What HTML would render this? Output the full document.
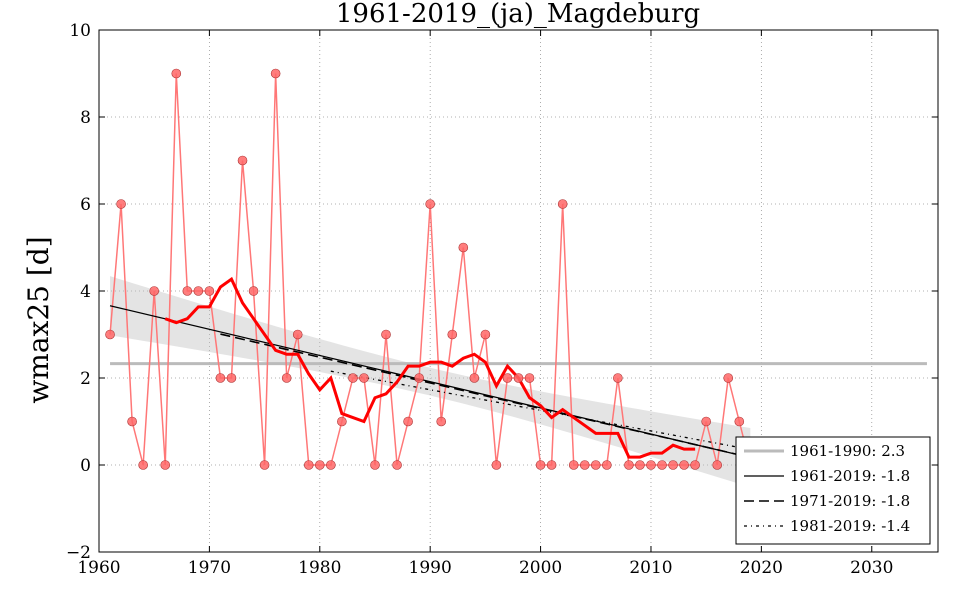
<!DOCTYPE html>
<html><head><meta charset="utf-8"><style>
body{margin:0;background:#fff}
svg text{font-family:"DejaVu Serif","Liberation Serif",serif}
</style></head><body>
<svg id="s" width="960" height="600" xmlns="http://www.w3.org/2000/svg"></svg>
<script>
const S=document.getElementById('s');
const X0=99,X1=938,Y0=30,Y1=552;
const xs=y=>X0+(y-1960)*(X1-X0)/76, ys=v=>Y1-(v+2)*(Y1-Y0)/12;
let h='';
for(let y=1960;y<=2030;y+=10){h+=`<line x1="${xs(y)}" x2="${xs(y)}" y1="${Y0}" y2="${Y1}" stroke="#999" stroke-dasharray="1,3" stroke-width="0.8"/>`;}
for(let v=-2;v<=10;v+=2){h+=`<line x1="${X0}" x2="${X1}" y1="${ys(v)}" y2="${ys(v)}" stroke="#999" stroke-dasharray="1,3" stroke-width="0.8"/>`;}
const d=[3,6,1,0,4,0,9,4,4,4,2,2,7,4,0,9,2,3,0,0,0,1,2,2,0,3,0,1,2,6,1,3,5,2,3,0,2,2,2,0,0,6,0,0,0,0,2,0,0,0,0,0,0,0,1,0,2,1,0];
const yr=d.map((_,i)=>1961+i);
function reg(a){const ii=yr.map((y,i)=>i).filter(i=>yr[i]>=a);const n=ii.length;let mx=0,my=0;ii.forEach(i=>{mx+=yr[i];my+=d[i]});mx/=n;my/=n;let sxy=0,sxx=0;ii.forEach(i=>{sxy+=(yr[i]-mx)*(d[i]-my);sxx+=(yr[i]-mx)**2});const b=sxy/sxx;return {b,a:my-b*mx,mx,sxx,n};}
const r=reg(1961);
let up=[],lo=[];
for(let y=1961;y<=2019;y+=1){const f=r.a+r.b*y;const w=0.68*Math.sqrt(0.22+ (y-r.mx)**2/(29*29)*0.78);up.push(`${xs(y)},${ys(f+w)}`);lo.unshift(`${xs(y)},${ys(f-w)}`);}
h+=`<polygon points="${up.concat(lo).join(' ')}" fill="#bbb" fill-opacity="0.4"/>`;
h+=`<line x1="${xs(1961)}" x2="${xs(2035)}" y1="${ys(2.33)}" y2="${ys(2.33)}" stroke="#bbb" stroke-width="3"/>`;
h+=`<polyline points="${d.map((v,i)=>xs(yr[i])+','+ys(v)).join(' ')}" fill="none" stroke="#f77" stroke-width="1.5"/>`;
[[1961,''],[1971,'10,5'],[1981,'3,4,1,4']].forEach(([a,da])=>{const q=reg(a);h+=`<line x1="${xs(a)}" x2="${xs(2019)}" y1="${ys(q.a+q.b*a)}" y2="${ys(q.a+q.b*2019)}" stroke="#000" stroke-width="${a==1971?1.6:1.3}" ${da?`stroke-dasharray="${da}"`:''}/>`;});
let m=[];for(let i=5;i<d.length-5;i++){let s=0;for(let k=-5;k<=5;k++)s+=d[i+k];m.push(xs(yr[i])+','+ys(s/11));}
h+=`<polyline points="${m.join(' ')}" fill="none" stroke="#f00" stroke-width="3"/>`;
d.forEach((v,i)=>{h+=`<circle cx="${xs(yr[i])}" cy="${ys(v)}" r="4.5" fill="#f66" fill-opacity="0.85" stroke="#a33" stroke-width="0.6"/>`});
h+=`<rect x="${X0}" y="${Y0}" width="${X1-X0}" height="${Y1-Y0}" fill="none" stroke="#000" stroke-width="1"/>`;
for(let y=1960;y<=2030;y+=10){h+=`<line x1="${xs(y)}" x2="${xs(y)}" y1="${Y1}" y2="${Y1-6}" stroke="#000"/><line x1="${xs(y)}" x2="${xs(y)}" y1="${Y0}" y2="${Y0+6}" stroke="#000"/><text x="${xs(y)}" y="${Y1+21}" font-size="17" text-anchor="middle">${y}</text>`;}
for(let v=-2;v<=10;v+=2){h+=`<line x1="${X0}" x2="${X0+6}" y1="${ys(v)}" y2="${ys(v)}" stroke="#000"/><line x1="${X1}" x2="${X1-6}" y1="${ys(v)}" y2="${ys(v)}" stroke="#000"/><text x="${X0-8}" y="${ys(v)+6}" font-size="17" text-anchor="end">${v<0?'\u2212'+(-v):v}</text>`;}
h+=`<text x="518" y="22" font-size="26" text-anchor="middle">1961-2019_(ja)_Magdeburg</text>`;
h+=`<text transform="translate(48,320) rotate(-90)" font-size="28" text-anchor="middle">wmax25 [d]</text>`;
h+=`<rect x="736" y="437" width="194" height="107" fill="#fff" stroke="#000"/>`;
const L=[['1961-1990: 2.3','#bbb',3,''],['1961-2019: -1.8','#000',1.3,''],['1971-2019: -1.8','#000',1.6,'10,5'],['1981-2019: -1.4','#000',1.3,'3,4,1,4']];
L.forEach((l,i)=>{const y=451+i*25;h+=`<line x1="744" x2="784" y1="${y}" y2="${y}" stroke="${l[1]}" stroke-width="${l[2]}" ${l[3]?`stroke-dasharray="${l[3]}"`:''}/><text x="790" y="${y+5}" font-size="15">${l[0]}</text>`;});
S.innerHTML=h;
</script>
</body></html>
